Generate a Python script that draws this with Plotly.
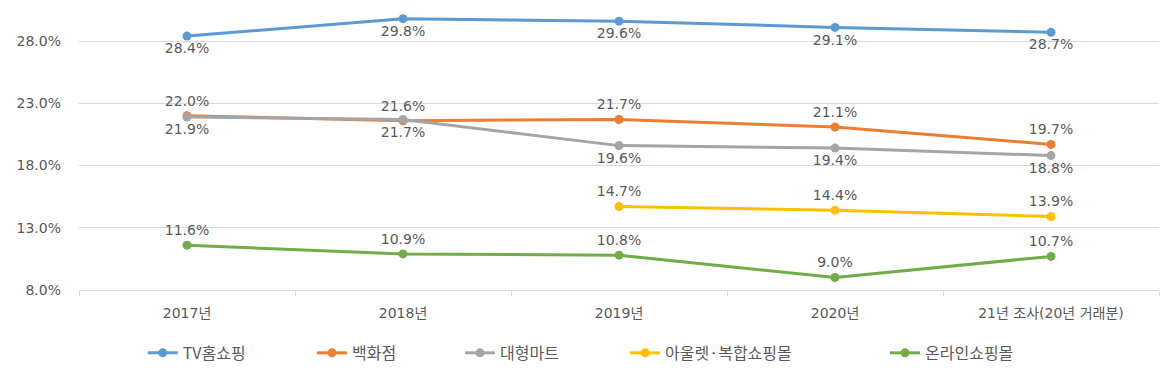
import plotly.graph_objects as go

categories = ["2017년", "2018년", "2019년", "2020년", "21년 조사(20년 거래분)"]
series_names = ["TV홈쇼핑", "백화점", "대형마트", "아울렛·복합쇼핑몰", "온라인쇼핑몰"]
tv = [28.4, 29.8, 29.6, 29.1, 28.7]
dept = [22.0, 21.6, 21.7, 21.1, 19.7]
mart = [21.9, 21.7, 19.6, 19.4, 18.8]
outlet = [None, None, 14.7, 14.4, 13.9]
online = [11.6, 10.9, 10.8, 9.0, 10.7]
y_ticks = [8.0, 13.0, 18.0, 23.0, 28.0]

colors = ["#5B9BD5", "#ED7D31", "#A5A5A5", "#FFC000", "#70AD47"]
positions = ["bottom center", "top center", "bottom center", "top center", "top center"]
all_series = [tv, dept, mart, outlet, online]
legend_ids = ["legend", "legend2", "legend3", "legend4", "legend5"]
legend_x = [0.059, 0.2157, 0.3528, 0.5056, 0.7463]

FONT = "DejaVu Sans, Noto Sans CJK KR"
TXT = "#595959"

fig = go.Figure()
for name, vals, col, pos, lid in zip(series_names, all_series, colors, positions, legend_ids):
    fig.add_trace(go.Scatter(
        x=categories, y=vals, name=name,
        mode="lines+markers+text",
        line=dict(color=col, width=3),
        marker=dict(color=col, size=9),
        text=[f"{v:.1f}%" if v is not None else "" for v in vals],
        textposition=pos,
        textfont=dict(family=FONT, size=14, color=TXT),
        connectgaps=False,
        legend=lid,
    ))

layout_legends = {}
for lid, lx in zip(legend_ids, legend_x):
    layout_legends[lid] = dict(
        x=lx, xanchor="left", y=-0.217, yanchor="middle",
        orientation="h", bgcolor="rgba(0,0,0,0)",
        font=dict(family="Noto Sans CJK KR", size=16, color=TXT),
    )

fig.update_layout(
    width=1173, height=383,
    margin=dict(l=79, r=14, t=0, b=93),
    paper_bgcolor="white", plot_bgcolor="white",
    font=dict(family=FONT, size=14, color=TXT),
    showlegend=True,
    xaxis=dict(type="category", showgrid=False, showline=True, linecolor="#D9D9D9",
               ticks="outside", tickson="boundaries", tickcolor="#D9D9D9", ticklen=5,
               ticklabelstandoff=10,
               tickfont=dict(family=FONT, size=14, color=TXT), range=[-0.5, 4.5]),
    yaxis=dict(range=[8, 31.3], tickvals=y_ticks, ticktext=[f"{t:.1f}%" for t in y_ticks],
               showgrid=True, gridcolor="#D9D9D9", zeroline=False, showline=False,
               ticks="", ticklabelstandoff=17,
               tickfont=dict(family=FONT, size=14, color=TXT)),
    **layout_legends,
)

fig.write_html("out.html", config={"displayModeBar": False})

with open("out.html", "r", encoding="utf-8") as f:
    html = f.read()
html = html.replace("<body>", '<body style="margin:0;padding:0;">', 1)
with open("out.html", "w", encoding="utf-8") as f:
    f.write(html)
